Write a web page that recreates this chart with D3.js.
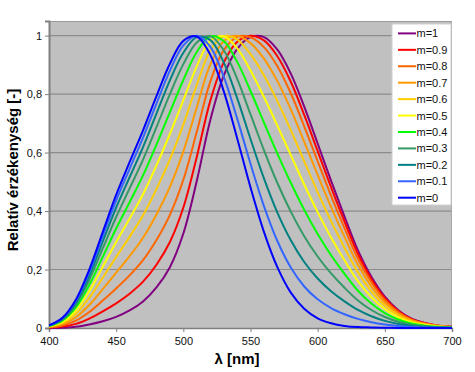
<!DOCTYPE html>
<html><head><meta charset="utf-8">
<script src="https://cdn.jsdelivr.net/npm/d3@7"></script>
<style>body{margin:0;background:#fff}svg{display:block}text{font-family:"Liberation Sans",Arial,sans-serif}</style>
</head><body>
<script>
const wavelengths = [400,410,420,430,440,450,460,470,480,490,500,510,520,530,540,550,560,570,580,590,600,610,620,630,640,650,660,670,680,690,700];
const seriesNames = ["m=1","m=0.9","m=0.8","m=0.7","m=0.6","m=0.5","m=0.4","m=0.3","m=0.2","m=0.1","m=0"];
const seriesColors = ["#800080","#FF0000","#FF6600","#FF9900","#FFCC00","#FFFF00","#00FF00","#339966","#008080","#3366FF","#0000FF"];
const m10 = [0.000,0.001,0.004,0.012,0.023,0.038,0.060,0.091,0.139,0.208,0.323,0.503,0.710,0.862,0.954,0.995,0.995,0.952,0.870,0.757,0.631,0.503,0.381,0.265,0.175,0.107,0.061,0.032,0.017,0.008,0.004];
const m09 = [0.0014,0.0048,0.0140,0.0322,0.0567,0.0844,0.1173,0.1584,0.2165,0.2941,0.4120,0.5852,0.7760,0.9077,0.9784,0.9996,0.9835,0.9296,0.8423,0.7287,0.6051,0.4812,0.3640,0.2530,0.1670,0.1021,0.0582,0.0305,0.0162,0.0078,0.0039];
const m08 = [0.0024,0.0088,0.0251,0.0549,0.0937,0.1353,0.1799,0.2319,0.3008,0.3871,0.5070,0.6709,0.8417,0.9496,0.9958,0.9946,0.9607,0.8953,0.8029,0.6897,0.5702,0.4522,0.3414,0.2371,0.1564,0.0956,0.0545,0.0286,0.0152,0.0073,0.0037];
const m07 = [0.0036,0.0131,0.0368,0.0789,0.1327,0.1890,0.2458,0.3088,0.3884,0.4830,0.6034,0.7546,0.9009,0.9811,0.9998,0.9743,0.9214,0.8444,0.7478,0.6368,0.5234,0.4135,0.3116,0.2161,0.1425,0.0870,0.0496,0.0260,0.0138,0.0067,0.0033];
const m06 = [0.0047,0.0174,0.0487,0.1031,0.1721,0.2429,0.3117,0.3855,0.4752,0.5770,0.6958,0.8311,0.9490,0.9983,0.9874,0.9364,0.8642,0.7761,0.6767,0.5699,0.4649,0.3656,0.2747,0.1902,0.1253,0.0765,0.0436,0.0228,0.0121,0.0058,0.0029];
const m05 = [0.0058,0.0215,0.0600,0.1261,0.2095,0.2942,0.3741,0.4576,0.5561,0.6635,0.7786,0.8950,0.9815,0.9982,0.9570,0.8807,0.7899,0.6919,0.5914,0.4907,0.3963,0.3096,0.2317,0.1601,0.1053,0.0643,0.0366,0.0192,0.0101,0.0049,0.0024];
const m04 = [0.0068,0.0252,0.0703,0.1470,0.2433,0.3403,0.4300,0.5218,0.6274,0.7386,0.8482,0.9438,0.9976,0.9816,0.9110,0.8106,0.7028,0.5966,0.4967,0.4039,0.3215,0.2488,0.1852,0.1275,0.0837,0.0510,0.0290,0.0152,0.0081,0.0039,0.0019];
const m03 = [0.0076,0.0284,0.0792,0.1649,0.2722,0.3796,0.4774,0.5759,0.6868,0.8000,0.9025,0.9768,0.9983,0.9509,0.8529,0.7310,0.6084,0.4959,0.3980,0.3141,0.2446,0.1865,0.1375,0.0941,0.0616,0.0375,0.0213,0.0111,0.0059,0.0028,0.0014];
const m02 = [0.0083,0.0311,0.0865,0.1796,0.2958,0.4115,0.5156,0.6190,0.7333,0.8470,0.9415,0.9947,0.9856,0.9094,0.7872,0.6465,0.5117,0.3948,0.3001,0.2257,0.1692,0.1255,0.0909,0.0616,0.0401,0.0243,0.0138,0.0072,0.0039,0.0018,0.0009];
const m01 = [0.0089,0.0332,0.0921,0.1909,0.3139,0.4360,0.5446,0.6514,0.7675,0.8802,0.9664,0.9996,0.9626,0.8609,0.7177,0.5616,0.4171,0.2975,0.2068,0.1420,0.0981,0.0682,0.0472,0.0311,0.0199,0.0120,0.0067,0.0035,0.0019,0.0009,0.0004];
const m00 = [0.009,0.035,0.097,0.200,0.328,0.455,0.567,0.676,0.793,0.904,0.982,0.997,0.935,0.811,0.650,0.481,0.329,0.208,0.121,0.066,0.033,0.016,0.007,0.003,0.002,0.001,0,0,0,0,0];
const xTicks = [400,450,500,550,600,650,700];
const yTicks = [0,0.2,0.4,0.6,0.8,1];
const yTickLabels = ["0","0,2","0,4","0,6","0,8","1"];
const xTitle = "λ [nm]";
const yTitle = "Relatív érzékenység [-]";

const seriesValues = [m10,m09,m08,m07,m06,m05,m04,m03,m02,m01,m00];

const W = 475, H = 372;
const L = 49, R = 452, T = 21, B = 328;
const svg = d3.select("body").append("svg").attr("width", W).attr("height", H);
const x = d3.scaleLinear().domain([400,700]).range([L,R]);
const y = d3.scaleLinear().domain([0,1.05]).range([B,T]);

svg.append("rect").attr("x",L).attr("y",T).attr("width",R-L).attr("height",B-T).attr("fill","#C0C0C0");

// gridlines
svg.append("g").selectAll("line").data(yTicks.slice(1)).join("line")
  .attr("x1",L).attr("x2",R).attr("y1",d=>y(d)).attr("y2",d=>y(d))
  .attr("stroke","#8c8c8c").attr("stroke-width",1.2);
// top/right border
svg.append("line").attr("x1",L).attr("x2",R).attr("y1",T+0.5).attr("y2",T+0.5).attr("stroke","#9a9a9a");
svg.append("line").attr("x1",R-0.5).attr("x2",R-0.5).attr("y1",T).attr("y2",B).attr("stroke","#a8a8a8");

// axes
const xAxis = d3.axisBottom(x).tickValues(xTicks).tickSize(4).tickFormat(d3.format("d"));
const gx = svg.append("g").attr("transform",`translate(0,${B})`).call(xAxis);
gx.select(".domain").attr("stroke","#808080").attr("stroke-width",1.5);
gx.selectAll(".tick line").attr("stroke","#808080");
gx.selectAll(".tick text").attr("font-size",11).attr("fill","#111").attr("dy","0.9em")
  .attr("font-family","'Liberation Sans',Arial,sans-serif");

const yAxis = d3.axisLeft(y).tickValues(yTicks).tickSize(4).tickFormat((d,i)=>yTickLabels[i]);
const gy = svg.append("g").attr("transform",`translate(${L},0)`).call(yAxis);
gy.select(".domain").attr("stroke","#808080").attr("stroke-width",2);
gy.selectAll(".tick line").attr("stroke","#808080");
gy.selectAll(".tick text").attr("font-size",11).attr("fill","#111").attr("x",-7)
  .attr("font-family","'Liberation Sans',Arial,sans-serif");

// curves
const line = d3.line().x((d,i)=>x(wavelengths[i])).y(d=>y(d)).curve(d3.curveCatmullRom.alpha(0.5));
const clip = svg.append("clipPath").attr("id","pc").append("rect").attr("x",L).attr("y",T).attr("width",R-L).attr("height",B-T+2);
svg.append("g").attr("clip-path","url(#pc)").selectAll("path").data(seriesValues).join("path")
  .attr("d",d=>line(d)).attr("fill","none").attr("stroke",(d,i)=>seriesColors[i]).attr("stroke-width",2);

// legend
const lg = svg.append("g");
lg.append("rect").attr("x",392).attr("y",24).attr("width",59).attr("height",181)
  .attr("fill","#fff").attr("stroke","#d0d0d0").attr("stroke-width",1);
const rows = lg.selectAll("g.row").data(seriesNames).join("g").attr("class","row")
  .attr("transform",(d,i)=>`translate(0,${33.4+i*16.43})`);
rows.append("line").attr("x1",398).attr("x2",416).attr("stroke",(d,i)=>seriesColors[i]).attr("stroke-width",2);
rows.append("text").attr("x",416.5).attr("y",4).attr("font-size",11).attr("fill","#111").text(d=>d);

// titles
svg.append("text").attr("x",237).attr("y",364).attr("text-anchor","middle").attr("font-size",15).attr("font-weight","bold").text(xTitle);
svg.append("text").attr("transform","translate(18,170) rotate(-90)").attr("text-anchor","middle").attr("font-size",15).attr("font-weight","bold").text(yTitle);
</script>
</body></html>
